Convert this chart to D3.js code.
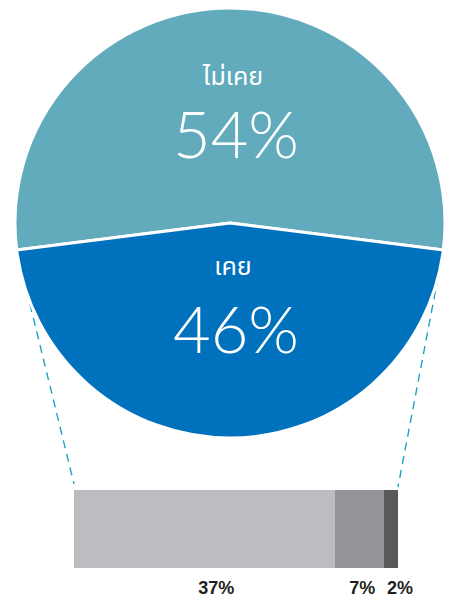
<!DOCTYPE html>
<html>
<head>
<meta charset="utf-8">
<script src="https://cdn.jsdelivr.net/npm/d3@7"></script>
<style>
  body { margin: 0; background: #fff; }
  svg { display: block; }
</style>
</head>
<body>
<div id="chart"></div>
<script>
// pie: never / ever
const pieLabels = ["ไม่เคย", "เคย"];
const pieValues = [54, 46];
const pieColors = ["#62abbd", "#0071bc"];

// breakdown of the "ever" slice
const barValues = [37, 7, 2];
const barLabels = ["37%", "7%", "2%"];
const barColors = ["#bcbdc1", "#939598", "#58595b"];

const W = 450, H = 597;
const cx = 230, cy = 223, R = 215;

const svg = d3.select("#chart").append("svg").attr("width", W).attr("height", H);

const frac = pieValues[0] / d3.sum(pieValues);
const pie = d3.pie().sort(null)
  .startAngle(-Math.PI * frac)
  .endAngle(2 * Math.PI - Math.PI * frac);
const arcs = pie(pieValues);
const arc = d3.arc().innerRadius(0).outerRadius(R);

// bar scale: the blue slice spread over the bar
const x = d3.scaleLinear().domain([0, d3.sum(barValues)]).range([74, 398]);
const barY = 490, barH = 78;

// dashed connectors, drawn first so the slice covers them
const blue = arcs[1];
const edge = a => [cx + R * Math.sin(a), cy - R * Math.cos(a)];
const conn = [
  [edge(blue.endAngle), [x(0), barY - 6]],
  [edge(blue.startAngle), [x(d3.sum(barValues)), barY - 3]]
];
svg.selectAll("line.conn").data(conn).join("line")
  .attr("class", "conn")
  .attr("x1", d => d[0][0]).attr("y1", d => d[0][1])
  .attr("x2", d => d[1][0]).attr("y2", d => d[1][1])
  .attr("stroke", "#1ba3c6")
  .attr("stroke-width", 1.4)
  .attr("stroke-dasharray", "8,6");

const g = svg.append("g").attr("transform", `translate(${cx},${cy})`);
g.selectAll("path").data(arcs).join("path")
  .attr("d", arc)
  .attr("fill", (d, i) => pieColors[i])
  .attr("stroke", "#fff")
  .attr("stroke-width", 3)
  .attr("stroke-linejoin", "round");

// slice labels
const labelY = [[85, 158], [275, 353]];
pieLabels.forEach((name, i) => {
  svg.append("text")
    .attr("x", cx + 3).attr("y", labelY[i][0])
    .attr("text-anchor", "middle")
    .attr("fill", "#fff")
    .style("font-family", "'Noto Sans Thai', 'Noto Sans', 'DejaVu Sans', sans-serif")
    .style("font-size", "25px")
    .text(name);
  svg.append("text")
    .attr("x", cx + 6).attr("y", labelY[i][1])
    .attr("text-anchor", "middle")
    .attr("fill", "#fff")
    .style("font-family", "Lato, 'Open Sans', sans-serif")
    .style("font-weight", 300)
    .style("font-size", "65px")
    .text(pieValues[i] + "%");
});

// stacked bar
let acc = 0;
const segs = barValues.map((v, i) => {
  const s = { x0: acc, x1: acc + v, color: barColors[i], label: barLabels[i] };
  acc += v;
  return s;
});
svg.selectAll("rect.seg").data(segs).join("rect")
  .attr("class", "seg")
  .attr("x", d => x(d.x0))
  .attr("y", barY)
  .attr("width", d => x(d.x1) - x(d.x0))
  .attr("height", barH)
  .attr("fill", d => d.color);

svg.selectAll("text.seg").data(segs).join("text")
  .attr("class", "seg")
  .attr("x", (d, i) => (x(d.x0) + x(d.x1)) / 2 + [12, 3, 9][i])
  .attr("y", 594)
  .attr("text-anchor", "middle")
  .attr("fill", "#231f20")
  .style("font-family", "'Liberation Sans', Arial, sans-serif")
  .style("font-weight", "bold")
  .style("font-size", "18px")
  .text(d => d.label);
</script>
</body>
</html>
